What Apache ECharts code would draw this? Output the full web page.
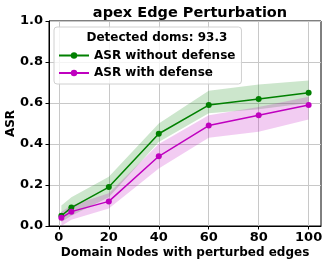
<!DOCTYPE html>
<html>
<head>
<meta charset="utf-8">
<script src="https://cdn.jsdelivr.net/npm/echarts@6/dist/echarts.min.js"></script>
<style>html,body{margin:0;padding:0;background:#fff}#c{width:327px;height:263px}</style>
</head>
<body>
<div id="c"></div>
<script>
const xs = [1, 5, 20, 40, 60, 80, 100];
const asrNoDef = [0.05, 0.09, 0.19, 0.45, 0.59, 0.62, 0.65];
const noDefLow = [0.02, 0.05, 0.14, 0.41, 0.55, 0.57, 0.60];
const noDefHigh = [0.10, 0.14, 0.24, 0.50, 0.66, 0.69, 0.71];
const asrDef = [0.04, 0.07, 0.12, 0.34, 0.49, 0.54, 0.59];
const defLow = [0.00, 0.03, 0.085, 0.28, 0.43, 0.46, 0.52];
const defHigh = [0.07, 0.10, 0.16, 0.40, 0.54, 0.58, 0.63];
const xTicks = [0, 20, 40, 60, 80, 100];
const titleText = 'apex Edge Perturbation';
const legendTitle = 'Detected doms: 93.3';
const nameNoDef = 'ASR without defense';
const nameDef = 'ASR with defense';

const F = 'DejaVu Sans';
const green = '#008000', mag = '#bf00bf';
const pair = (ys) => xs.map((x, i) => [x, ys[i]]);

function band(lo, hi, color) {
  return {
    type: 'custom', silent: true, z: 1,
    data: xs.map((x, i) => [x, lo[i], hi[i]]),
    encode: {x: 0, y: [1, 2]},
    renderItem: function (params, api) {
      if (params.dataIndex !== 0) return null;
      const top = xs.map((x, i) => api.coord([x, hi[i]]));
      const bot = xs.map((x, i) => api.coord([x, lo[i]])).reverse();
      return {type: 'polygon', shape: {points: top.concat(bot)},
        style: {fill: color, opacity: 0.2}};
    }
  };
}

const chart = echarts.init(document.getElementById('c'), null, {renderer: 'canvas'});
chart.setOption({
  animation: false,
  backgroundColor: '#fff',
  title: {text: titleText, left: 185, textAlign: 'center', top: 1,
    textStyle: {fontFamily: F, fontWeight: 'bold', fontSize: 14.5, color: '#000'}},
  grid: {left: 49, right: 6, top: 21, bottom: 37, containLabel: false, outerBoundsMode: 'none',
    show: true, borderColor: '#000', borderWidth: 1},
  xAxis: {type: 'value', min: -3.95, max: 104.95,
    name: 'Domain Nodes with perturbed edges', nameLocation: 'middle', nameGap: 21, nameMoveOverlap: false,
    nameTextStyle: {fontFamily: F, fontWeight: 'bold', fontSize: 12, color: '#000'},
    axisLine: {show: true, onZero: false, lineStyle: {color: '#000', width: 1}},
    axisTick: {show: true, customValues: xTicks, length: 3.5, lineStyle: {color: '#000'}},
    axisLabel: {customValues: xTicks, margin: 5, fontFamily: F, fontWeight: 'bold', fontSize: 13, color: '#000'},
    splitLine: {show: true, lineStyle: {color: '#c8c8c8', width: 1}}
  },
  yAxis: {type: 'value', min: 0, max: 1, interval: 0.2,
    name: 'ASR', nameLocation: 'middle', nameGap: 32, nameMoveOverlap: false,
    nameTextStyle: {fontFamily: F, fontWeight: 'bold', fontSize: 12, color: '#000'},
    axisLine: {show: true, onZero: false, lineStyle: {color: '#000', width: 1}},
    axisTick: {show: true, length: 3.5, lineStyle: {color: '#000'}},
    axisLabel: {margin: 6, formatter: v => v.toFixed(1), fontFamily: F, fontWeight: 'bold', fontSize: 13, color: '#000'},
    splitLine: {show: true, lineStyle: {color: '#c8c8c8', width: 1}}
  },
  legend: {data: [nameNoDef, nameDef], orient: 'vertical', left: 54, top: 27,
    padding: [21.5, 6, 4, 4], itemGap: 3.5, itemWidth: 30, itemHeight: 8,
    backgroundColor: 'rgba(255,255,255,0.8)', borderColor: '#d0d0d0', borderWidth: 1, borderRadius: 3,
    textStyle: {fontFamily: F, fontWeight: 'bold', fontSize: 12, color: '#000', lineHeight: 14}},
  graphic: [{type: 'text', left: 148.5 - 62, top: 31.5, z: 100,
    style: {text: legendTitle, font: 'bold 12px "DejaVu Sans"', fill: '#000'}}],
  series: [
    band(noDefLow, noDefHigh, green),
    {name: nameNoDef, type: 'line', data: pair(asrNoDef), symbol: 'circle', symbolSize: 6,
      itemStyle: {color: green}, lineStyle: {color: green, width: 1.5}, z: 3},
    band(defLow, defHigh, mag),
    {name: nameDef, type: 'line', data: pair(asrDef), symbol: 'circle', symbolSize: 6,
      itemStyle: {color: mag}, lineStyle: {color: mag, width: 1.5}, z: 4}
  ]
});
</script>
</body>
</html>
